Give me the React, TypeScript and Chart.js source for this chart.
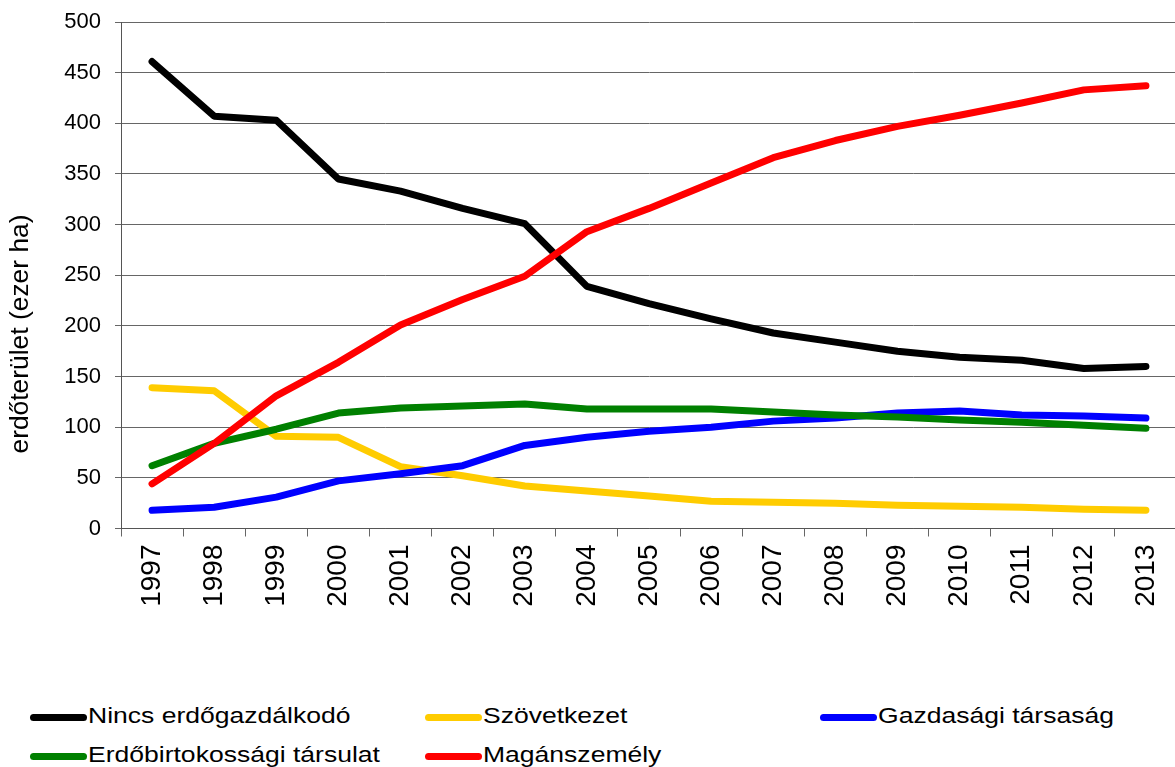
import React, { useEffect, useRef } from "react";
import { Chart, registerables } from "chart.js";

Chart.register(...registerables);

const years = ["1997", "1998", "1999", "2000", "2001", "2002", "2003", "2004", "2005", "2006", "2007", "2008", "2009", "2010", "2011", "2012", "2013"];

const seriesNames = ["Nincs erdőgazdálkodó", "Szövetkezet", "Gazdasági társaság", "Erdőbirtokossági társulat", "Magánszemély"];
const seriesColors = ["#000000", "#FFCC00", "#0000FF", "#008000", "#FF0000"];

const nincs = [461, 407, 403, 345, 333, 316, 301, 239, 222, 207, 193, 184, 175, 169, 166, 158, 160];
const szovetkezet = [139, 136, 91, 90, 61, 52, 42, 37, 32, 27, 26, 25, 23, 22, 21, 19, 18];
const gazdasagi = [18, 21, 31, 47, 54, 62, 82, 90, 96, 100, 106, 109, 114, 116, 112, 111, 109];
const erdobirtokossagi = [62, 84, 98, 114, 119, 121, 123, 118, 118, 118, 115, 112, 110, 107, 105, 102, 99];
const maganszemely = [44, 84, 131, 164, 201, 226, 249, 293, 316, 341, 366, 383, 397, 408, 420, 433, 437];

const seriesValues = [nincs, szovetkezet, gazdasagi, erdobirtokossagi, maganszemely];

const yMin = 0;
const yMax = 500;
const yStep = 50;
const yTitle = "erdőterület (ezer ha)";

const FONT = '"Liberation Sans", Arial, sans-serif';
const CANVAS_W = 1178;
const CANVAS_H = 680;
const PLOT_BOTTOM = 528.5;

const yTitlePlugin = {
  id: "yTitleCustom",
  afterDraw(chart: any) {
    const ctx = chart.ctx;
    ctx.save();
    ctx.translate(21, 334);
    ctx.rotate(-Math.PI / 2);
    ctx.font = `26.4px ${FONT}`;
    ctx.fillStyle = "#000";
    ctx.textAlign = "center";
    ctx.textBaseline = "middle";
    ctx.fillText(yTitle, 0, 0);
    ctx.restore();
  },
};

export default function App() {
  const ref = useRef<HTMLCanvasElement>(null);

  useEffect(() => {
    const n = seriesNames.length;
    const chart = new Chart(ref.current as HTMLCanvasElement, {
      type: "line",
      data: {
        labels: years,
        datasets: seriesNames.map((name, i) => ({
          label: name,
          data: seriesValues[i],
          borderColor: seriesColors[i],
          backgroundColor: seriesColors[i],
          borderWidth: 7,
          pointRadius: 0,
          tension: 0,
          fill: false,
          borderCapStyle: "round",
          borderJoinStyle: "round",
          order: n - i,
        })),
      },
      options: {
        responsive: false,
        animation: false,
        layout: { padding: { top: 22, right: 1, left: 0, bottom: 0 } },
        plugins: {
          legend: { display: false },
          tooltip: { enabled: false },
          title: { display: false },
        },
        scales: {
          x: {
            type: "category",
            offset: true,
            grid: {
              offset: true,
              drawOnChartArea: false,
              drawTicks: true,
              tickLength: 8,
              color: "#666666",
            },
            border: { color: "#555555", width: 1 },
            ticks: {
              autoSkip: false,
              minRotation: 90,
              maxRotation: 90,
              padding: 8,
              color: "#000000",
              font: { family: FONT, size: 28 },
            },
            afterFit(scale: any) {
              scale.height = CANVAS_H - PLOT_BOTTOM;
              scale.paddingLeft = 0;
              scale.paddingRight = 0;
            },
          },
          y: {
            min: yMin,
            max: yMax,
            ticks: {
              stepSize: yStep,
              padding: 14,
              color: "#000000",
              font: { family: FONT, size: 22 },
            },
            grid: { color: "#666666", tickLength: 6, lineWidth: 1 },
            border: { color: "#555555", width: 1 },
            afterFit(scale: any) {
              scale.width = 121;
              scale.paddingTop = 0;
              scale.paddingBottom = 0;
            },
          },
        },
      },
      plugins: [yTitlePlugin],
    } as any);
    return () => chart.destroy();
  }, []);

  const colX = [30, 425, 820];
  const rowLineY = [717.5, 756.5];
  const rowBaseline = [724.3, 763];
  const fontSize = 21.4;

  return (
    <div
      style={{
        position: "fixed",
        left: 0,
        top: 0,
        width: 1175,
        height: 767,
        overflow: "hidden",
        background: "#ffffff",
      }}
    >
      <canvas
        ref={ref}
        width={CANVAS_W}
        height={CANVAS_H}
        style={{ position: "absolute", left: 0, top: 0, width: CANVAS_W, height: CANVAS_H }}
      />
      {seriesNames.map((name, i) => {
        const row = Math.floor(i / 3);
        const col = i % 3;
        const x = colX[col];
        return (
          <React.Fragment key={name}>
            <div
              style={{
                position: "absolute",
                left: x,
                top: rowLineY[row] - 3.5,
                width: 57,
                height: 7,
                borderRadius: 3.5,
                background: seriesColors[i],
              }}
            />
            <div
              style={{
                position: "absolute",
                left: x + 58,
                top: rowBaseline[row] - fontSize * 0.8465,
                fontFamily: FONT,
                fontSize: fontSize,
                lineHeight: 1,
                whiteSpace: "nowrap",
                color: "#000",
                transform: "scaleX(1.24)",
                transformOrigin: "left top",
              }}
            >
              {name}
            </div>
          </React.Fragment>
        );
      })}
    </div>
  );
}
